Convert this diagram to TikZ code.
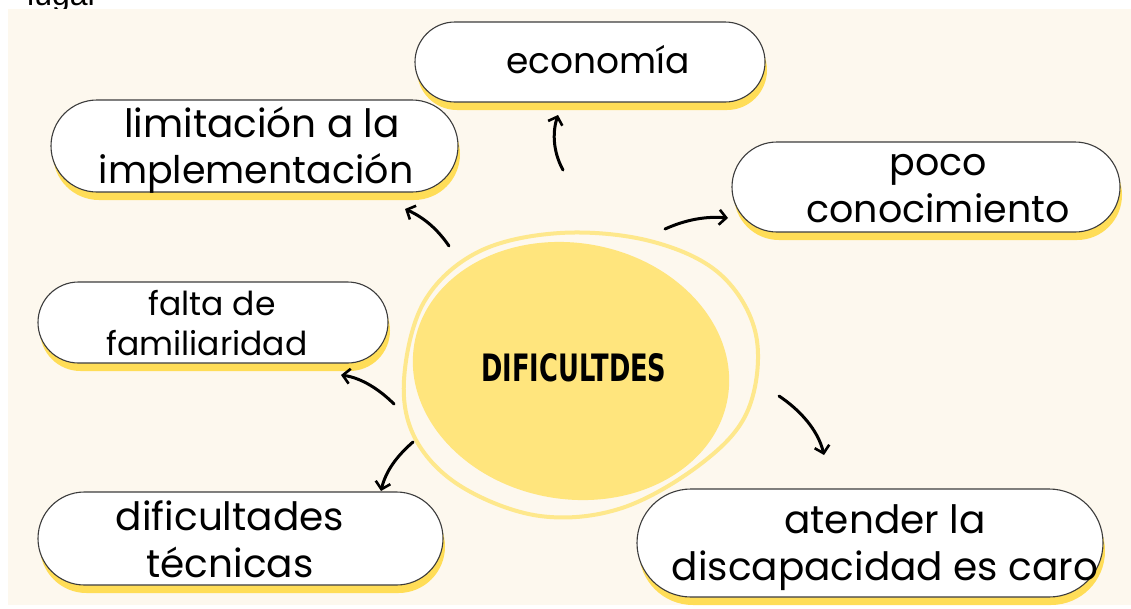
\documentclass[tikz,border=0pt]{standalone}
\usepackage{fontspec}
\newfontfamily\pop{Poppins}
\newfontfamily\lib{Liberation Sans}
\newfontfamily\djb{DejaVu Sans}
\usetikzlibrary{shapes.misc,shadows,arrows.meta}
\definecolor{cream}{RGB}{253,248,238}
\definecolor{blobfill}{RGB}{255,229,125}
\definecolor{ringcol}{RGB}{254,232,140}
\definecolor{shadowy}{RGB}{255,221,87}
\definecolor{pillline}{RGB}{60,60,60}
\tikzset{
  pill/.style={rounded rectangle, draw=pillline, line width=1.1pt, fill=white,
    inner sep=0pt, drop shadow={shadow xshift=2pt, shadow yshift=-8pt, fill=shadowy, opacity=1}},
  ptxt/.style={anchor=base, inner sep=0pt, text=black},
  arr/.style={line width=3pt, line cap=round, black,
    -{Straight Barb[length=7pt,width=15pt,line width=2.6pt]}}
}
\begin{document}
\begin{tikzpicture}[x=1pt,y=-1pt]
\useasboundingbox (0,0) rectangle (1131,608);
\begin{scope}
\clip (0,0) rectangle (1131,608);
\node[ptxt, anchor=base west] (lugar) at (27,5) {\lib\fontsize{32}{36}\selectfont lugar};
\fill[cream] (8,9) rectangle (1131,605);
\end{scope}

% central blob
\fill[blobfill, rotate around={-10:(571,371)}] (571,371) ellipse [x radius=159, y radius=128];
\draw[ringcol, line width=4pt] plot[smooth cycle, tension=0.6] coordinates {
  (404,380) (424,302) (478,252) (560,233) (650,241) (720,274) (756,335)
  (748,410) (702,463) (622,508) (540,516) (462,487) (416,440)};
\node[inner sep=0pt] (center) at (574,368) {\resizebox{185pt}{28pt}{\djb\bfseries DIFICULTDES}};

% boxes
\node[pill, minimum width=350pt, minimum height=80pt] (eco) at (590,62) {};
\node[pill, minimum width=407pt, minimum height=92pt] (lim) at (254.5,146) {};
\node[pill, minimum width=388pt, minimum height=90pt] (poco) at (926,187) {};
\node[pill, minimum width=350pt, minimum height=81pt] (falta) at (213,322.5) {};
\node[pill, minimum width=405pt, minimum height=93pt] (dif) at (240.5,538.5) {};
\node[pill, minimum width=466pt, minimum height=108pt] (aten) at (870,543) {};

% texts
\node[ptxt] (t1) at (598,73) {\pop\fontsize{36}{40}\selectfont economía};
\node[ptxt] (t2a) at (262,137) {\pop\fontsize{39}{47}\selectfont limitación a la};
\node[ptxt] (t2b) at (256,183) {\pop\fontsize{38}{47}\selectfont implementación};
\node[ptxt] (t3a) at (938,175) {\pop\fontsize{38}{47}\selectfont poco};
\node[ptxt] (t3b) at (938,222) {\pop\fontsize{38}{47}\selectfont conocimiento};
\node[ptxt] (t4a) at (212,315) {\pop\fontsize{33}{40}\selectfont falta de};
\node[ptxt] (t4b) at (207,355) {\pop\fontsize{33}{40}\selectfont familiaridad};
\node[ptxt] (t5a) at (230,530) {\pop\fontsize{39}{47}\selectfont dificultades};
\node[ptxt] (t5b) at (230,577) {\pop\fontsize{39}{47}\selectfont técnicas};
\node[ptxt] (t6a) at (885,533) {\pop\fontsize{39}{47}\selectfont atender la};
\node[ptxt] (t6b) at (885,580) {\pop\fontsize{39}{47}\selectfont discapacidad es caro};

% arrow endpoints
\coordinate (s1) at (563,170); \coordinate (e1) at (558,115);
\coordinate (s2) at (449,246); \coordinate (e2) at (405,209);
\coordinate (s3) at (665,229); \coordinate (e3) at (728,218);
\coordinate (s4) at (394,404); \coordinate (e4) at (341,375);
\coordinate (s5) at (413,442); \coordinate (e5) at (381,491);
\coordinate (s6) at (779,396); \coordinate (e6) at (824,455);

\draw[arr] (s1) .. controls (552,150) and (553,130) .. (e1);
\draw[arr] (s2) .. controls (438,230) and (425,218) .. (e2);
\draw[arr] (s3) .. controls (685,220) and (705,216) .. (e3);
\draw[arr] (s4) .. controls (380,390) and (362,378) .. (e4);
\draw[arr] (s5) .. controls (398,455) and (386,470) .. (e5);
\draw[arr] (s6) .. controls (800,410) and (818,430) .. (e6);
\end{tikzpicture}
\end{document}
